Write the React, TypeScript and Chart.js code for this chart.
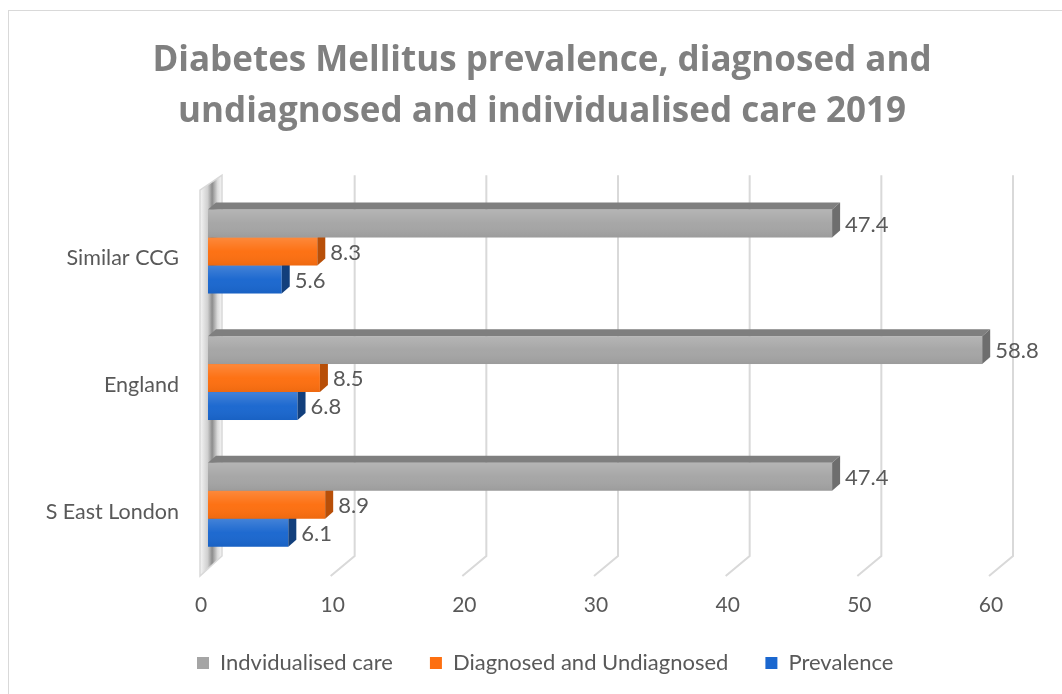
import React, { useEffect, useRef } from 'react';
import { Chart, registerables } from 'chart.js';

Chart.register(...registerables);

const categories = ['Similar CCG', 'England', 'S East London'];
const individualisedCare = [47.4, 58.8, 47.4];
const diagnosedUndiagnosed = [8.3, 8.5, 8.9];
const prevalence = [5.6, 6.8, 6.1];
const seriesNames = ['Indvidualised care', 'Diagnosed and Undiagnosed', 'Prevalence'];
const titleLines = ['Diabetes Mellitus prevalence, diagnosed and', 'undiagnosed and individualised care 2019'];
const xMin = 0;
const xMax = 60;
const xStep = 10;

const FRONT = ['#a5a5a5', '#fd6f10', '#1a67cf'];
const TOPF = ['#7f7f7f', '#d35c0c', '#15509f'];
const SIDE = ['#6e6e6e', '#b84f08', '#123f7c'];
const FONT = "Lato, 'Open Sans', sans-serif";
const TITLE_FONT = "'Open Sans', Lato, sans-serif";
const TEXT = '#595959';
const DX = 8;
const DY = -7;

const threeD = {
  id: 'threeD',
  beforeDatasetsDraw(chart: any) {
    const ctx = chart.ctx;
    const xs = chart.scales.x;
    const area = chart.chartArea;
    ctx.save();
    ctx.strokeStyle = '#d9d9d9';
    ctx.lineWidth = 2;
    for (const t of xs.ticks) {
      if (t.value === xMin) continue;
      const px = xs.getPixelForValue(t.value);
      ctx.beginPath();
      ctx.moveTo(px + 15, area.top - 13);
      ctx.lineTo(px + 15, area.bottom - 12);
      ctx.lineTo(px - 9, area.bottom + 8);
      ctx.stroke();
    }
    const p0 = xs.getPixelForValue(xMin);
    const wl = p0 - 8;
    const wr = p0 + 14;
    const g = ctx.createLinearGradient(wl, 0, wr, 0);
    g.addColorStop(0, '#f6f6f6');
    g.addColorStop(0.35, '#cfcfcf');
    g.addColorStop(0.55, '#8c8c8c');
    g.addColorStop(0.8, '#dcdcdc');
    g.addColorStop(1, '#f6f6f6');
    ctx.fillStyle = g;
    ctx.beginPath();
    ctx.moveTo(wl, area.top + 2);
    ctx.lineTo(wr, area.top - 13);
    ctx.lineTo(wr, area.bottom - 12);
    ctx.lineTo(wl, area.bottom + 8);
    ctx.closePath();
    ctx.fill();
    ctx.strokeStyle = '#d9d9d9';
    ctx.lineWidth = 1.5;
    ctx.stroke();
    ctx.restore();
  },
  afterDatasetDraw(chart: any, args: any) {
    const ctx = chart.ctx;
    const i = args.index;
    const meta = args.meta;
    ctx.save();
    for (const el of meta.data) {
      const h = el.height;
      const top = el.y - h / 2;
      const bot = el.y + h / 2;
      const l = el.base;
      const r = el.x;
      ctx.fillStyle = TOPF[i];
      ctx.beginPath();
      ctx.moveTo(l, top);
      ctx.lineTo(l + DX, top + DY);
      ctx.lineTo(r + DX, top + DY);
      ctx.lineTo(r, top);
      ctx.closePath();
      ctx.fill();
      ctx.fillStyle = SIDE[i];
      ctx.beginPath();
      ctx.moveTo(r, top);
      ctx.lineTo(r + DX, top + DY);
      ctx.lineTo(r + DX, bot + DY);
      ctx.lineTo(r, bot);
      ctx.closePath();
      ctx.fill();
      const g = ctx.createLinearGradient(0, top, 0, bot);
      g.addColorStop(0, 'rgba(255,255,255,0.18)');
      g.addColorStop(0.5, 'rgba(255,255,255,0.02)');
      g.addColorStop(1, 'rgba(0,0,0,0.06)');
      ctx.fillStyle = g;
      ctx.fillRect(l, top, r - l, bot - top);
    }
    ctx.restore();
  },
  afterDatasetsDraw(chart: any) {
    const ctx = chart.ctx;
    ctx.save();
    ctx.font = `22px ${FONT}`;
    ctx.fillStyle = TEXT;
    ctx.textAlign = 'left';
    ctx.textBaseline = 'middle';
    chart.data.datasets.forEach((ds: any, i: number) => {
      const meta = chart.getDatasetMeta(i);
      meta.data.forEach((el: any, j: number) => {
        ctx.fillText(Number(ds.data[j]).toFixed(1), el.x + 13, el.y + 1);
      });
    });
    ctx.restore();
  },
  afterLayout(chart: any) {
    const t = chart.titleBlock;
    if (t) {
      const dx = 542 - (t.left + t.right) / 2;
      t.left += dx;
      t.right += dx;
    }
    const lg = chart.legend;
    if (lg) {
      const dx = 197 - (lg.left + 37);
      lg.left += dx;
      lg.right += dx;
    }
  },
};

export default function App() {
  const ref = useRef<HTMLCanvasElement>(null);
  useEffect(() => {
    if (!ref.current) return;
    const series = [individualisedCare, diagnosedUndiagnosed, prevalence];
    const chart = new Chart(ref.current, {
      type: 'bar',
      data: {
        labels: categories,
        datasets: series.map((d, i) => ({
          label: seriesNames[i],
          data: d,
          backgroundColor: FRONT[i],
          borderWidth: 0,
          categoryPercentage: 0.663,
          barPercentage: 1,
        })),
      },
      options: {
        indexAxis: 'y',
        responsive: false,
        animation: false,
        layout: { padding: { left: 0, right: 64, top: 0, bottom: 10 } },
        scales: {
          x: {
            min: xMin,
            max: xMax,
            grid: { display: false },
            border: { display: false },
            ticks: {
              stepSize: xStep,
              color: TEXT,
              font: { family: FONT, size: 21 },
              padding: 17,
              labelOffset: -7,
            },
            afterFit: (s: any) => { s.height = 47; },
          },
          y: {
            grid: { display: false },
            border: { display: false },
            ticks: {
              color: TEXT,
              font: { family: FONT, size: 21.5 },
              padding: 21,
              labelOffset: 7,
            },
            afterFit: (s: any) => { s.width = 208; },
          },
        },
        plugins: {
          title: {
            display: true,
            text: titleLines,
            color: '#808080',
            font: { family: TITLE_FONT, size: 35, weight: 'bold', lineHeight: 1.46 },
            padding: { top: 35, bottom: 51 },
          },
          legend: {
            position: 'bottom',
            align: 'start',
            labels: {
              color: TEXT,
              font: { family: FONT, size: 22 },
              boxWidth: 12,
              boxHeight: 12,
              padding: 37,
            },
          },
          tooltip: { enabled: false },
        },
      },
      plugins: [threeD],
    });
    return () => chart.destroy();
  }, []);

  return (
    <div style={{ position: 'fixed', left: 0, top: 0, width: 1062, height: 694, overflow: 'hidden', background: '#fff' }}>
      <div style={{ position: 'absolute', left: 8, top: 10, width: 1100, height: 800, border: '1.5px solid #d9d9d9' }} />
      <canvas ref={ref} width={1062} height={694} style={{ position: 'absolute', left: 0, top: 0, display: 'block' }} />
    </div>
  );
}
